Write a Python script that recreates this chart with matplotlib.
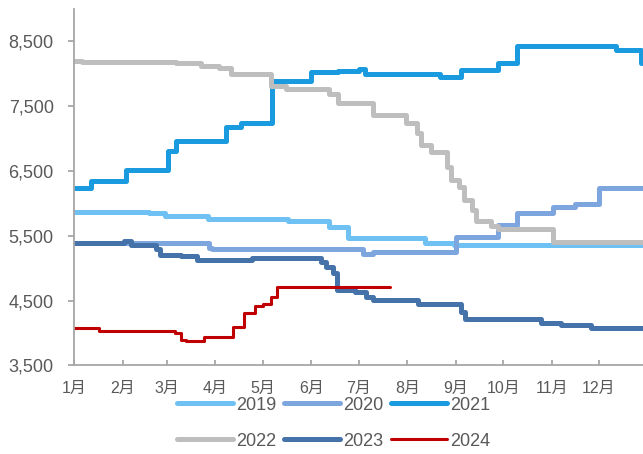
import matplotlib
matplotlib.use("Agg")
import matplotlib.pyplot as plt
from matplotlib.ticker import FuncFormatter

plt.rcParams['font.family'] = ['Liberation Sans', 'Noto Sans CJK SC']

# price steps: day of year where a new level starts, and the level
years = ["2019", "2020", "2021", "2022", "2023", "2024"]

days_2019 = [0, 48, 58, 85, 136, 162, 174, 223, 242, 364]
vals_2019 = [5870, 5850, 5800, 5760, 5720, 5640, 5465, 5390, 5360, 5360]

days_2020 = [0, 86, 88, 184, 190, 243, 270, 282, 305, 319, 334, 364]
vals_2020 = [5390, 5310, 5295, 5220, 5255, 5485, 5670, 5850, 5950, 5990, 6240, 6240]

days_2021 = [0, 11, 33, 60, 65, 97, 106, 126, 151, 168, 181, 185, 202, 233, 246,
             270, 282, 345, 361, 364]
vals_2021 = [6240, 6350, 6520, 6800, 6965, 7180, 7230, 7890, 8020, 8040, 8070,
             7995, 7985, 7940, 8060, 8155, 8430, 8355, 8160, 8160]

days_2022 = [0, 5, 65, 81, 92, 100, 125, 135, 162, 168, 190, 211, 218, 221, 227,
             237, 240, 245, 248, 253, 256, 265, 270, 305, 364]
vals_2022 = [8200, 8170, 8160, 8120, 8085, 8000, 7810, 7765, 7680, 7550, 7365,
             7240, 7080, 6900, 6790, 6560, 6360, 6250, 6050, 5900, 5720, 5650,
             5600, 5410, 5410]

days_2023 = [0, 32, 36, 52, 55, 68, 78, 113, 138, 157, 160, 165, 167, 179, 186,
             190, 219, 246, 249, 297, 310, 329, 364]
vals_2023 = [5390, 5420, 5360, 5290, 5210, 5180, 5130, 5150, 5160, 5100, 5020,
             4930, 4670, 4640, 4560, 4515, 4440, 4330, 4210, 4160, 4130, 4085, 4085]

days_2024 = [0, 16, 64, 68, 71, 83, 101, 108, 115, 120, 125, 129, 181, 201]
vals_2024 = [4075, 4035, 4000, 3900, 3880, 3945, 4095, 4310, 4410, 4440, 4560,
             4715, 4705, 4705]

month_starts = [0, 31, 59, 90, 120, 151, 181, 212, 243, 273, 304, 334]
month_labels = [f"{m}月" for m in range(1, 13)]

series = [
    (days_2019, vals_2019, "#6FC1F3", 3.6),
    (days_2020, vals_2020, "#7DA6DF", 3.6),
    (days_2021, vals_2021, "#1A9BE0", 3.6),
    (days_2022, vals_2022, "#BEBEBE", 3.6),
    (days_2023, vals_2023, "#4573A9", 3.6),
    (days_2024, vals_2024, "#C00000", 2.2),
]

fig = plt.figure(figsize=(6.43, 4.54), dpi=100)
ax = fig.add_axes([0.1151, 0.195, 0.885, 0.786])

lines = []
for (d, v, color, lw), label in zip(series, years):
    ln, = ax.plot(d, v, drawstyle="steps-post", color=color, lw=lw, label=label,
                  solid_capstyle="round", solid_joinstyle="round")
    lines.append(ln)

ax.set_xlim(0, 362)
ax.set_ylim(3500, 9000)
ax.set_yticks(range(3500, 9000, 1000))
ax.yaxis.set_major_formatter(FuncFormatter(lambda x, p: f"{int(x):,}"))
ax.set_xticks(month_starts)
ax.set_xticklabels(month_labels)

for side in ["top", "right"]:
    ax.spines[side].set_visible(False)
for side in ["left", "bottom"]:
    ax.spines[side].set_color("#A6A6A6")
    ax.spines[side].set_linewidth(1.3)

ax.tick_params(axis="y", direction="out", length=4.5, width=1.3, color="#A6A6A6",
               labelsize=13, labelcolor="#595959", pad=10)
ax.tick_params(axis="x", direction="in", length=3.6, width=1.3, color="#A6A6A6",
               labelsize=11.5, labelcolor="#595959", pad=11)

# legend fills column by column, so order handles to read across rows
order = [0, 3, 1, 4, 2, 5]
leg = fig.legend([lines[i] for i in order], [years[i] for i in order],
                 loc="center", bbox_to_anchor=(0.519, 0.068), ncol=3, frameon=False,
                 fontsize=13, handlelength=3.1, handletextpad=0.15,
                 columnspacing=0.45, labelspacing=1.05, borderpad=0.2)
for t in leg.get_texts():
    t.set_color("#595959")

fig.savefig("out.png", dpi=100)
